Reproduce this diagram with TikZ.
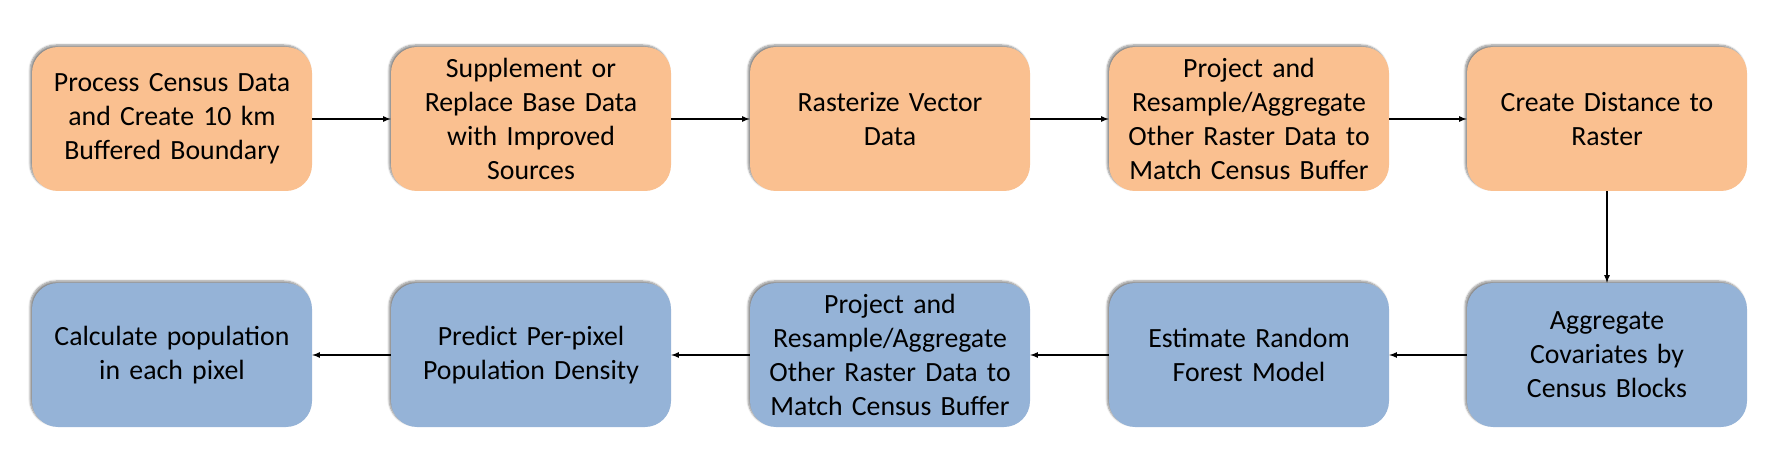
\documentclass[tikz,border=0pt]{standalone}
\usepackage{fontspec}
\setmainfont{Carlito}
\usetikzlibrary{shadows.blur}
\definecolor{prepOrange}{HTML}{FAC090}
\definecolor{modelBlue}{HTML}{95B3D7}
\begin{document}
\begin{tikzpicture}[x=1pt,y=1pt]
\tikzset{stage/.style={rounded corners=26pt, minimum width=280pt, minimum height=144pt,
  text width=260pt, align=center, font=\fontsize{27.8}{34}\selectfont,
  blur shadow={shadow xshift=-2pt, shadow yshift=2pt, shadow blur steps=6, shadow opacity=45}}}
\tikzset{prep/.style={stage, fill=prepOrange}}
\tikzset{model/.style={stage, fill=modelBlue}}
\tikzset{flow/.style={-latex, line width=1.6pt}}
\pgfmathsetmacro{\topY}{342}   %upper row centre
\pgfmathsetmacro{\lowY}{106}   %lower row centre
\useasboundingbox (0,0) rectangle (1786,461);
%upper row
\node[prep] (census) at (172,\topY) {Process Census Data\\and Create 10 km\\Buffered Boundary};
\node[prep] (supplement) at (531,\topY) {Supplement or\\Replace Base Data\\with Improved\\Sources};
\node[prep] (rasterize) at (890,\topY) {Rasterize Vector\\Data};
\node[prep] (projectA) at (1249,\topY) {Project and\\Resample/Aggregate\\Other Raster Data to\\Match Census Buffer};
\node[prep] (distance) at (1607,\topY) {Create Distance to\\Raster};
%lower row
\node[model] (aggregate) at (1607,\lowY) {Aggregate\\Covariates by\\Census Blocks};
\node[model] (forest) at (1249,\lowY) {Estimate Random\\Forest Model};
\node[model] (projectB) at (890,\lowY) {Project and\\Resample/Aggregate\\Other Raster Data to\\Match Census Buffer};
\node[model] (predict) at (531,\lowY) {Predict Per-pixel\\Population Density};
\node[model] (calculate) at (172,\lowY) {Calculate population\\in each pixel};
%connectors
\foreach \from/\to in {census/supplement, supplement/rasterize, rasterize/projectA,
  projectA/distance, aggregate/forest, forest/projectB, projectB/predict, predict/calculate}
  \draw[flow] (\from) -- (\to);
\draw[flow] (distance) -- (aggregate);
\end{tikzpicture}
\end{document}
